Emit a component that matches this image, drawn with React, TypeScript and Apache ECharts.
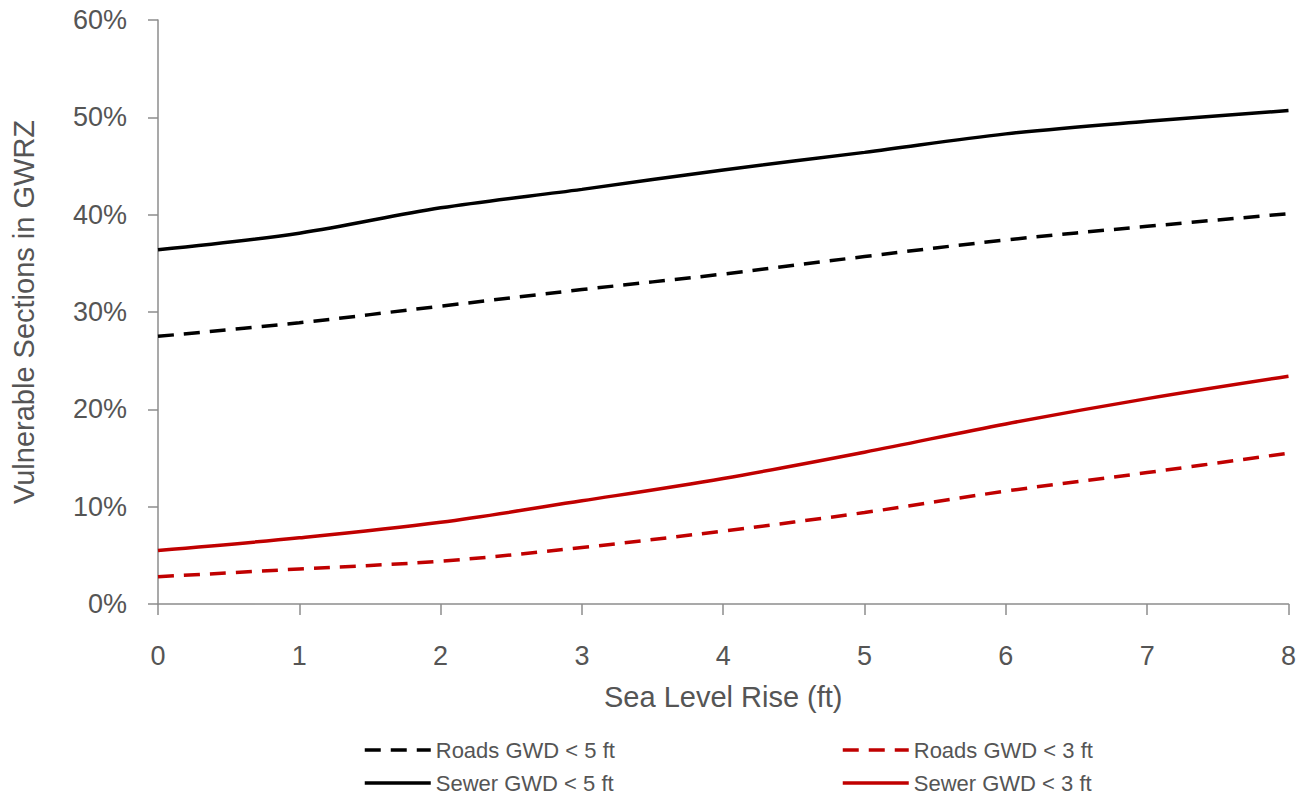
import React, { useEffect, useRef } from "react";
import * as echarts from "echarts";

const seaLevelRise = [0, 1, 2, 3, 4, 5, 6, 7, 8];
const roads5 = [27.5, 28.9, 30.6, 32.3, 33.9, 35.7, 37.4, 38.8, 40.1];
const roads3 = [2.8, 3.6, 4.4, 5.8, 7.5, 9.4, 11.6, 13.5, 15.5];
const sewer5 = [36.4, 38.1, 40.7, 42.6, 44.6, 46.4, 48.3, 49.6, 50.7];
const sewer3 = [5.5, 6.8, 8.4, 10.6, 12.9, 15.6, 18.5, 21.1, 23.4];

const NAMES = {
  roads5: "Roads GWD < 5 ft",
  roads3: "Roads GWD < 3 ft",
  sewer5: "Sewer GWD < 5 ft",
  sewer3: "Sewer GWD < 3 ft",
};

const FONT = "'Liberation Sans', Arial, sans-serif";
const TEXT = "#555555";
const AXIS = "#8c8c8c";
const RED = "#C00000";

function pairs(ys: number[]) {
  return seaLevelRise.map((x, i) => [x, ys[i]]);
}

export default function App() {
  const ref = useRef<HTMLDivElement>(null);
  useEffect(() => {
    if (!ref.current) return;
    const chart = echarts.init(ref.current, null, { renderer: "svg" });
    const mkSeries = (name: string, ys: number[], color: string, dashed: boolean) => ({
      name,
      type: "line",
      data: pairs(ys),
      smooth: 0.35,
      symbol: "none",
      showSymbol: false,
      lineStyle: { color, width: 3.5, type: dashed ? [16, 10] : "solid" },
      itemStyle: { color },
    });
    const mkLegend = (name: string, left: number, top: number) => ({
      data: [name],
      left,
      top,
      padding: 0,
      itemWidth: 66,
      itemHeight: 14,
      itemStyle: { opacity: 0 },
      lineStyle: { width: 3.5 },
      textStyle: { fontFamily: FONT, fontSize: 22, color: TEXT },
    });
    chart.setOption({
      animation: false,
      backgroundColor: "#ffffff",
      grid: { left: 158, right: 10, top: 20, bottom: 193, containLabel: false },
      xAxis: {
        type: "value",
        min: 0,
        max: 8,
        interval: 1,
        name: "Sea Level Rise (ft)",
        nameLocation: "middle",
        nameGap: 78,
        nameTextStyle: { fontFamily: FONT, fontSize: 29, color: TEXT },
        axisLine: { show: true, lineStyle: { color: AXIS, width: 1.5 } },
        axisTick: { show: true, length: 11, lineStyle: { color: AXIS, width: 1.5 } },
        axisLabel: { margin: 38, fontFamily: FONT, fontSize: 27, color: TEXT },
        splitLine: { show: false },
      },
      yAxis: {
        type: "value",
        min: 0,
        max: 60,
        interval: 10,
        name: "Vulnerable Sections in GWRZ",
        nameLocation: "middle",
        nameGap: 120,
        nameTextStyle: { fontFamily: FONT, fontSize: 29, color: TEXT },
        axisLine: { show: true, lineStyle: { color: AXIS, width: 1.5 } },
        axisTick: { show: true, length: 10, lineStyle: { color: AXIS, width: 1.5 } },
        axisLabel: { margin: 31, fontFamily: FONT, fontSize: 27, color: TEXT, formatter: "{value}%" },
        splitLine: { show: false },
      },
      legend: [
        mkLegend(NAMES.roads5, 363, 739),
        mkLegend(NAMES.roads3, 841, 739),
        mkLegend(NAMES.sewer5, 363, 772),
        mkLegend(NAMES.sewer3, 841, 772),
      ],
      series: [
        mkSeries(NAMES.roads5, roads5, "#000000", true),
        mkSeries(NAMES.roads3, roads3, RED, true),
        mkSeries(NAMES.sewer5, sewer5, "#000000", false),
        mkSeries(NAMES.sewer3, sewer3, RED, false),
      ],
    });
    return () => chart.dispose();
  }, []);
  return (
    <div
      ref={ref}
      style={{ position: "fixed", left: 0, top: 0, width: 1299, height: 797, background: "#fff" }}
    />
  );
}
